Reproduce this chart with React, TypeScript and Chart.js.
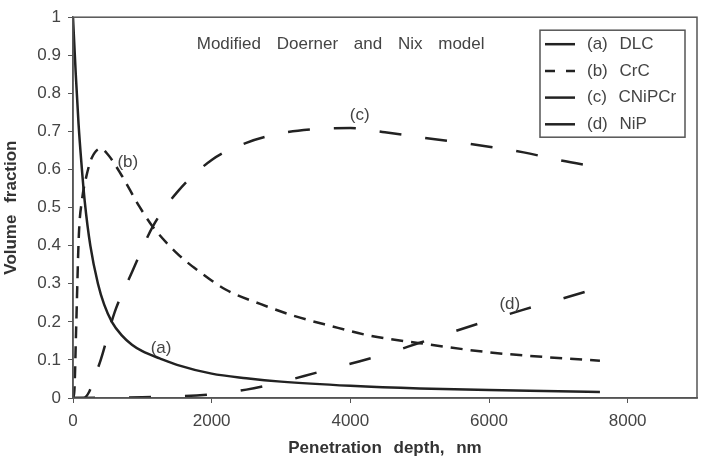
import React, { useEffect, useRef } from "react";
import { Chart, registerables } from "chart.js";

Chart.register(...registerables);

// ---- Data (Penetration depth in nm -> volume fraction) ----
const dlcX = [0, 40, 80, 120, 170, 250, 360, 450, 560, 700, 850, 1000, 1250, 1500, 2000, 2500, 3000, 4000, 5000, 6000, 7000, 7600];
const dlcY = [1.0, 0.85, 0.72, 0.62, 0.515, 0.4, 0.3, 0.245, 0.2, 0.165, 0.14, 0.123, 0.104, 0.087, 0.064, 0.052, 0.043, 0.032, 0.025, 0.021, 0.018, 0.016];

const crcX = [0, 20, 45, 85, 130, 190, 270, 400, 500, 700, 950, 1150, 1500, 1800, 2200, 2700, 3200, 3700, 4300, 5000, 6000, 7000, 7600];
const crcY = [0, 0.02, 0.18, 0.43, 0.52, 0.58, 0.63, 0.655, 0.64, 0.585, 0.505, 0.45, 0.38, 0.335, 0.285, 0.247, 0.215, 0.19, 0.163, 0.144, 0.12, 0.105, 0.098];

const cnipcrX = [0, 150, 230, 300, 400, 600, 850, 1150, 1500, 2000, 2500, 3000, 3500, 4000, 4500, 5000, 5500, 6000, 6500, 7000, 7600];
const cnipcrY = [0, 0, 0.015, 0.05, 0.1, 0.225, 0.33, 0.45, 0.54, 0.625, 0.67, 0.695, 0.706, 0.709, 0.698, 0.685, 0.673, 0.66, 0.645, 0.625, 0.605];

const nipX = [0, 1000, 1500, 2000, 2500, 3000, 3500, 4000, 4500, 5000, 5500, 6000, 6500, 7000, 7600];
const nipY = [0, 0.002, 0.004, 0.01, 0.022, 0.042, 0.066, 0.09, 0.115, 0.145, 0.175, 0.204, 0.232, 0.258, 0.29];

const xTicks = [0, 2000, 4000, 6000, 8000];
const yTicks = [0, 0.1, 0.2, 0.3, 0.4, 0.5, 0.6, 0.7, 0.8, 0.9, 1];

const seriesNames = ["(a) DLC", "(b) CrC", "(c) CNiPCr", "(d) NiP"];
const curveTags = ["(a)", "(b)", "(c)", "(d)"];
const tagX = [1270, 790, 4135, 6300];
const tagY = [0.131, 0.62, 0.742, 0.245];
const chartTitle = "Modified Doerner and Nix model";
const titleX = 3860;
const titleY = 0.93;

const xTitle = "Penetration depth, nm";
const yTitle = "Volume fraction";

const FONT = '"Liberation Sans", Arial, Helvetica, sans-serif';
const LINE = "#222";
const TEXT = "#444";

const dashes: number[][] = [[], [12, 8], [22, 24], [22, 34]];
const legendDashes: number[][] = [[], [10, 11], [], []];

const toPts = (xs: number[], ys: number[]) => xs.map((x, i) => ({ x, y: ys[i] }));

const decorPlugin = {
  id: "decor",
  beforeDraw(chart: any) {
    (chart.ctx as any).wordSpacing = "7px";
  },
  afterDatasetsDraw(chart: any) {
    const { ctx, chartArea: a, scales } = chart;
    ctx.save();
    // frame
    ctx.strokeStyle = "#555";
    ctx.lineWidth = 1.5;
    ctx.setLineDash([]);
    ctx.strokeRect(a.left, a.top, a.right - a.left, a.bottom - a.top);

    // curve tags
    ctx.fillStyle = TEXT;
    ctx.font = `17px ${FONT}`;
    ctx.textAlign = "center";
    ctx.textBaseline = "middle";
    curveTags.forEach((t, i) => {
      ctx.fillText(t, scales.x.getPixelForValue(tagX[i]), scales.y.getPixelForValue(tagY[i]));
    });

    // title
    ctx.save();
    (ctx as any).wordSpacing = "11px";
    ctx.fillText(chartTitle, scales.x.getPixelForValue(titleX), scales.y.getPixelForValue(titleY));
    ctx.restore();

    // legend box
    const bw = 145;
    const bh = 107;
    const bx = a.right - 12 - bw;
    const by = a.top + 13;
    ctx.fillStyle = "#fff";
    ctx.fillRect(bx, by, bw, bh);
    ctx.strokeStyle = "#555";
    ctx.lineWidth = 1.5;
    ctx.strokeRect(bx, by, bw, bh);
    ctx.textAlign = "left";
    seriesNames.forEach((name, i) => {
      const yy = by + 14 + i * 26.7;
      ctx.strokeStyle = LINE;
      ctx.lineWidth = 2.5;
      ctx.setLineDash(legendDashes[i]);
      ctx.beginPath();
      ctx.moveTo(bx + 5, yy);
      ctx.lineTo(bx + 35, yy);
      ctx.stroke();
      ctx.setLineDash([]);
      ctx.fillStyle = TEXT;
      (ctx as any).wordSpacing = "7px";
      ctx.fillText(name, bx + 47, yy);
    });
    ctx.restore();
  },
};

export default function App() {
  const ref = useRef<HTMLCanvasElement | null>(null);

  useEffect(() => {
    if (!ref.current) return;
    Chart.defaults.font.family = FONT;
    const allData = [toPts(dlcX, dlcY), toPts(crcX, crcY), toPts(cnipcrX, cnipcrY), toPts(nipX, nipY)];
    const chart = new Chart(ref.current, {
      type: "line",
      data: {
        datasets: allData.map((d, i) => ({
          label: seriesNames[i],
          data: d,
          borderColor: LINE,
          borderWidth: 2.5,
          borderDash: dashes[i],
          pointRadius: 0,
          fill: false,
          cubicInterpolationMode: "monotone",
        })),
      },
      options: {
        responsive: false,
        animation: false,
        layout: { padding: { left: 0, right: 8, top: 10, bottom: 0 } },
        plugins: { legend: { display: false }, tooltip: { enabled: false } },
        scales: {
          x: {
            type: "linear",
            min: 0,
            max: 9000,
            afterBuildTicks: (axis: any) => {
              axis.ticks = xTicks.map((v) => ({ value: v }));
            },
            afterFit: (s: any) => {
              s.height = 62;
            },
            ticks: { color: TEXT, font: { size: 17 }, padding: 8, maxRotation: 0, autoSkip: false, callback: (v: any) => String(v) },
            grid: { drawOnChartArea: false, drawTicks: true, tickLength: 5, color: "#555" },
            border: { display: true, color: "#555", width: 1.5 },
            title: { display: true, text: xTitle, color: "#333", font: { size: 17, weight: "bold" }, padding: { top: 1, bottom: 1 } },
          },
          y: {
            min: 0,
            max: 1,
            afterBuildTicks: (axis: any) => {
              axis.ticks = yTicks.map((v) => ({ value: v }));
            },
            afterFit: (s: any) => {
              s.width = 73;
            },
            ticks: {
              color: TEXT,
              font: { size: 17 },
              padding: 7,
              autoSkip: false,
              callback: (v: any) => String(Number(Number(v).toFixed(1))),
            },
            grid: { drawOnChartArea: false, drawTicks: true, tickLength: 5, color: "#555" },
            border: { display: true, color: "#555", width: 1.5 },
            title: { display: true, text: yTitle, color: "#333", font: { size: 17, weight: "bold" }, padding: { top: 1, bottom: 1 } },
          },
        },
      } as any,
      plugins: [decorPlugin],
    });
    return () => chart.destroy();
  }, []);

  return (
    <div style={{ position: "absolute", left: 0, top: 0, width: 705, height: 460, background: "#fff" }}>
      <canvas ref={ref} width={705} height={460} />
    </div>
  );
}
